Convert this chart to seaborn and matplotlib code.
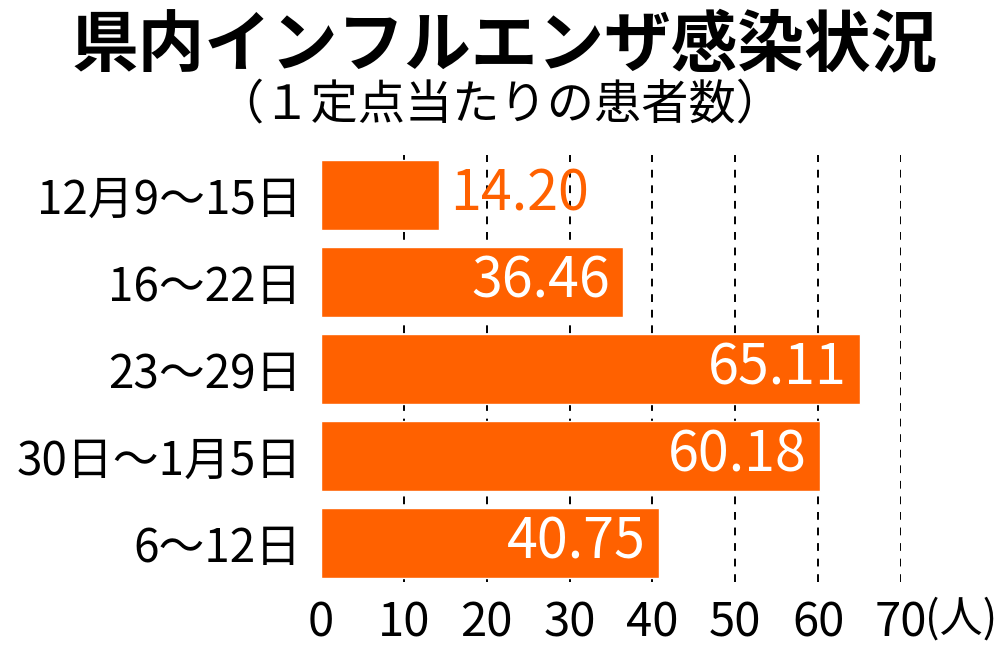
import pandas as pd
import seaborn as sns
import matplotlib.pyplot as plt

# data
weeks = ['12月9～15日', '16～22日', '23～29日', '30日～1月5日', '6～12日']
patients = [14.20, 36.46, 65.11, 60.18, 40.75]
x_ticks = [0, 10, 20, 30, 40, 50, 60, 70]

df = pd.DataFrame({'week': weeks, 'patients': patients})

sns.set_style('white')
plt.rcParams['font.family'] = ['Noto Sans CJK JP', 'DejaVu Sans']
plt.rcParams['text.color'] = 'black'
plt.rcParams['xtick.color'] = 'black'
plt.rcParams['ytick.color'] = 'black'

fig = plt.figure(figsize=(10, 6.59), dpi=100)
ax = fig.add_axes([0.321, 0.1168, 0.58, 0.648])

orange = '#FF6100'
for t in x_ticks[1:]:
    ax.axvline(t, color='black', ls=(0, (4, 4)), lw=1.4, zorder=0)

sns.barplot(data=df, x='patients', y='week', color=orange, saturation=1,
            width=0.8, ax=ax, zorder=2)

# value labels: outside the short bar, inside (white) for the rest
for i, v in enumerate(patients):
    if v < 20:
        ax.text(v + 1.4, i, f'{v:.2f}', color=orange, fontsize=40,
                va='center', ha='left', zorder=3)
    else:
        ax.text(v - 1.6, i, f'{v:.2f}', color='white', fontsize=40,
                va='center', ha='right', zorder=3)

ax.set_xlim(0, 70)
ax.set_ylim(4.45, -0.46)
ax.set_xticks(x_ticks)
ax.set_xticklabels([str(t) for t in x_ticks], fontsize=34)
ax.tick_params(axis='y', labelsize=33, length=0, pad=14)
ax.tick_params(axis='x', length=0, pad=12)
ax.set_xlabel('')
ax.set_ylabel('')
for s in ax.spines.values():
    s.set_visible(False)

ax.annotate('(人)', xy=(70, 0), xycoords=('data', 'axes fraction'),
            xytext=(17, -11), textcoords='offset points', ha='left', va='top',
            fontsize=31)

fig.text(0.505, 0.93, '県内インフルエンザ感染状況', ha='center', va='center',
         fontsize=48, fontweight='bold')
fig.text(0.5, 0.84, '（１定点当たりの患者数）', ha='center', va='center',
         fontsize=34)

fig.savefig('out.png', dpi=100)
